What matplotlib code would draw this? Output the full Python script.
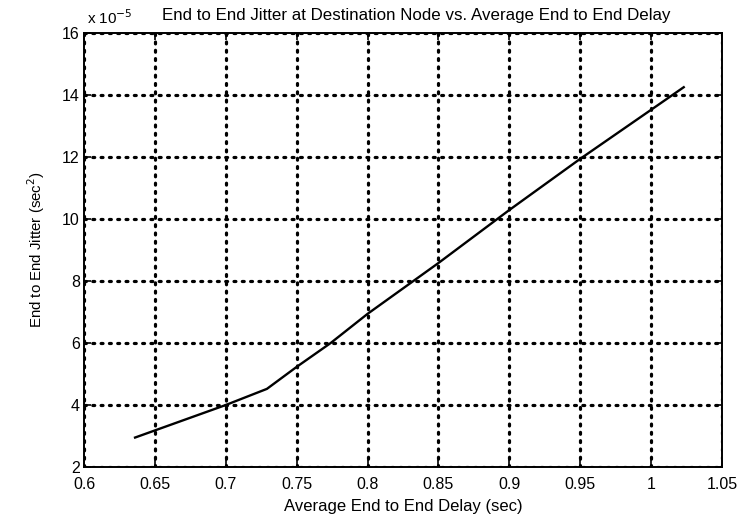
import matplotlib
matplotlib.use("Agg")
import matplotlib.pyplot as plt

plt.rcParams['font.family'] = ['Liberation Sans', 'DejaVu Sans']

# Data (jitter in units of 1e-5 sec^2)
delay = [0.636, 0.700, 0.729, 0.750, 0.774, 0.800, 0.850, 0.900, 0.950, 1.023]
jitter_e5 = [2.95, 4.00, 4.52, 5.23, 6.00, 6.94, 8.58, 10.29, 11.94, 14.25]
xticks = [0.6, 0.65, 0.7, 0.75, 0.8, 0.85, 0.9, 0.95, 1, 1.05]
xticklabels = ["0.6", "0.65", "0.7", "0.75", "0.8", "0.85", "0.9", "0.95", "1", "1.05"]
yticks = [2, 4, 6, 8, 10, 12, 14, 16]

fig = plt.figure(figsize=(7.39, 5.15), dpi=100)
ax = fig.add_axes([0.1137, 0.0932, 0.8633, 0.8428])

ax.plot(delay, jitter_e5, color='black', linewidth=1.7)

ax.set_xlim(0.6, 1.05)
ax.set_ylim(2, 16)
ax.set_xticks(xticks)
ax.set_xticklabels(xticklabels)
ax.set_yticks(yticks)

ax.grid(True, color='black', linestyle=(0, (0.6, 2.0)), linewidth=2.3, dash_capstyle='round')
ax.tick_params(direction='in', length=5, width=1.2, top=True, right=True,
               labelsize=11.5)
ax.tick_params(axis='x', pad=7)
ax.tick_params(axis='y', pad=3)
for s in ax.spines.values():
    s.set_linewidth(1.4)

ax.set_xlabel("Average End to End Delay (sec)", fontsize=12, labelpad=5)
ax.set_ylabel("End to End Jitter (sec$^2$)", fontsize=10.8, labelpad=11)
ax.set_title("End to End Jitter at Destination Node vs. Average End to End Delay",
             fontsize=12.2, pad=9, x=0.52)
ax.text(0.005, 1.014, r"x 10$^{-5}$", transform=ax.transAxes, fontsize=11,
        ha='left', va='bottom')

fig.savefig("out.png", dpi=100)
